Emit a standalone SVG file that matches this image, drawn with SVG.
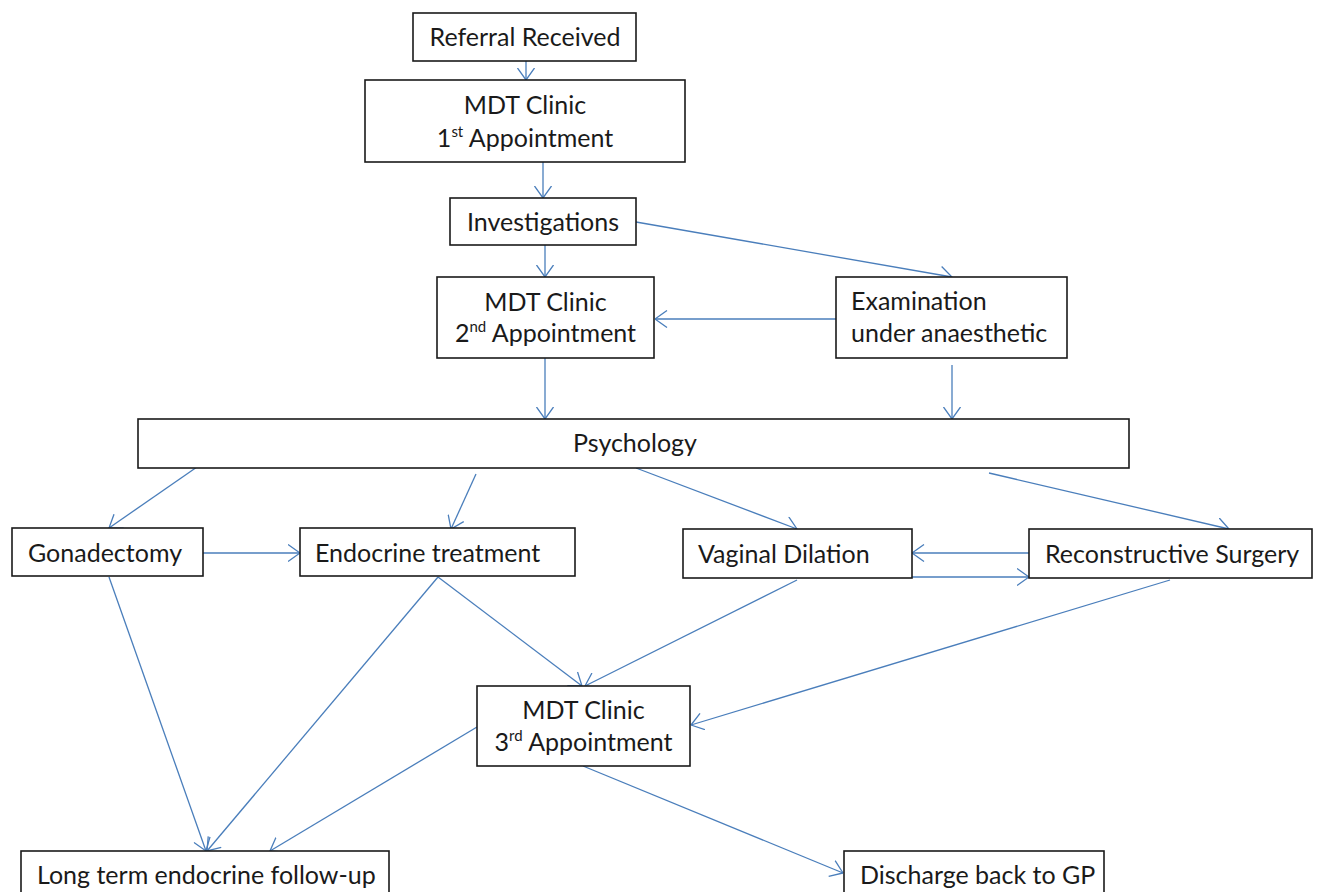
<svg xmlns="http://www.w3.org/2000/svg" width="1318" height="892" viewBox="0 0 1318 892">
<style>
.box{fill:#fff;stroke:#1a1a1a;stroke-width:1.6}
.t{font-family:Lato,"Liberation Sans",sans-serif;font-size:25px;fill:#1a1a1a}
.c{text-anchor:middle}
.sup{font-size:15px}
.cn line{stroke:#4a7ebb;stroke-width:1.3;fill:none;marker-end:url(#ah)}
</style>
<defs>
<marker id="ah" markerUnits="userSpaceOnUse" viewBox="0 0 13 18" refX="12.5" refY="9" markerWidth="13" markerHeight="18" orient="auto">
<path d="M0.5,0.5 L12.5,9 L0.5,17.5" fill="none" stroke="#4a7ebb" stroke-width="1.3"/>
</marker>
</defs>
<rect width="1318" height="892" fill="#fff"/>
<g id="connectors" class="cn">
<line x1="526" y1="61" x2="526" y2="80"/>
<line x1="543" y1="162" x2="543" y2="198"/>
<line x1="636" y1="222" x2="952" y2="277"/>
<line x1="545" y1="245" x2="545" y2="277"/>
<line x1="836" y1="319" x2="655" y2="319"/>
<line x1="545" y1="358" x2="545" y2="419"/>
<line x1="952" y1="365" x2="952" y2="419"/>
<line x1="197" y1="467" x2="109" y2="528"/>
<line x1="476" y1="474" x2="451" y2="529"/>
<line x1="636" y1="468" x2="797" y2="529"/>
<line x1="989" y1="473" x2="1229" y2="529"/>
<line x1="203" y1="553" x2="300" y2="553"/>
<line x1="1029" y1="553" x2="912" y2="553"/>
<line x1="912" y1="577" x2="1029" y2="577"/>
<line x1="109" y1="577" x2="206" y2="851"/>
<line x1="438" y1="577" x2="207" y2="851"/>
<line x1="438" y1="577" x2="582" y2="686"/>
<line x1="797" y1="580" x2="585" y2="686"/>
<line x1="1170" y1="580" x2="691" y2="725"/>
<line x1="477" y1="727" x2="270" y2="851"/>
<line x1="583" y1="766" x2="843" y2="873"/>
</g>
<g id="referral"><rect class="box" x="413" y="13" width="223" height="48"/><text class="t c" x="525" y="46">Referral Received</text></g>
<g id="mdt1"><rect class="box" x="365" y="80" width="320" height="82"/><text class="t c" x="525" y="114">MDT Clinic</text><text class="t c" x="525" y="147">1<tspan class="sup" dy="-10">st</tspan><tspan dy="10"> Appointment</tspan></text></g>
<g id="investigations"><rect class="box" x="450" y="198" width="186" height="47"/><text class="t c" x="543" y="231">Investigations</text></g>
<g id="mdt2"><rect class="box" x="437" y="277" width="217" height="81"/><text class="t c" x="545.5" y="311">MDT Clinic</text><text class="t c" x="545.5" y="342">2<tspan class="sup" dy="-10">nd</tspan><tspan dy="10"> Appointment</tspan></text></g>
<g id="exam"><rect class="box" x="836" y="277" width="231" height="81"/><text class="t" x="851" y="310">Examination</text><text class="t" x="851" y="342">under anaesthetic</text></g>
<g id="psychology"><rect class="box" x="138" y="419" width="991" height="49"/><text class="t c" x="635" y="452">Psychology</text></g>
<g id="gonadectomy"><rect class="box" x="12" y="528" width="191" height="48"/><text class="t" x="28" y="562">Gonadectomy</text></g>
<g id="endocrine"><rect class="box" x="300" y="528" width="275" height="48"/><text class="t" x="315" y="562">Endocrine treatment</text></g>
<g id="vaginal"><rect class="box" x="683" y="529" width="229" height="49"/><text class="t" x="698" y="563">Vaginal Dilation</text></g>
<g id="reconstructive"><rect class="box" x="1029" y="529" width="283" height="49"/><text class="t" x="1045" y="563">Reconstructive Surgery</text></g>
<g id="mdt3"><rect class="box" x="477" y="686" width="213" height="80"/><text class="t c" x="583.5" y="719">MDT Clinic</text><text class="t c" x="583.5" y="751">3<tspan class="sup" dy="-10">rd</tspan><tspan dy="10"> Appointment</tspan></text></g>
<g id="longterm"><rect class="box" x="21" y="851" width="368" height="50"/><text class="t" x="37" y="884">Long term endocrine follow-up</text></g>
<g id="discharge"><rect class="box" x="844" y="851" width="260" height="50"/><text class="t" x="860" y="884">Discharge back to GP</text></g>
</svg>
